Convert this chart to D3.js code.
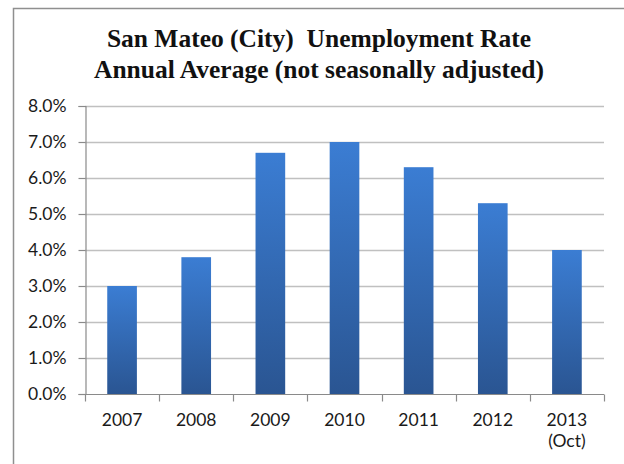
<!DOCTYPE html>
<html><head><meta charset="utf-8">
<script src="https://cdn.jsdelivr.net/npm/d3@7"></script>
<style>html,body{margin:0;padding:0;background:#fff;}svg{display:block;}</style>
</head><body>
<svg id="c" width="624" height="464"></svg>
<script>
const categories = [["2007"],["2008"],["2009"],["2010"],["2011"],["2012"],["2013","(Oct)"]];
const values = [3.0, 3.8, 6.7, 7.0, 6.3, 5.3, 4.0];
const yTicks = [0,1,2,3,4,5,6,7,8];
const titleLines = ["San Mateo (City)  Unemployment Rate", "Annual Average (not seasonally adjusted)"];

const svg = d3.select("#c");
const m = {left:85, right:604, top:106, bottom:394};
const keys = categories.map(c => c.join(" "));
const x = d3.scaleBand().domain(keys).range([m.left, m.right]).paddingInner(0.6).paddingOuter(0.3);
const xb = d3.scaleBand().domain(keys).range([m.left, m.right]);
const y = d3.scaleLinear().domain([0,8]).range([m.bottom, m.top]);

// frame
svg.append("path").attr("d","M13.5,464 V8.5 H624").attr("fill","none").attr("stroke","#8f8f8f").attr("stroke-width",1.5);

const defs = svg.append("defs");
const g = defs.append("linearGradient").attr("id","bg").attr("x1",0).attr("y1",0).attr("x2",0).attr("y2",1);
g.append("stop").attr("offset","0%").attr("stop-color","#3b7dd3");
g.append("stop").attr("offset","100%").attr("stop-color","#2a5592");

// gridlines
svg.append("g").selectAll("line").data(yTicks.filter(d=>d>0)).join("line")
  .attr("x1",m.left).attr("x2",m.right).attr("y1",d=>Math.round(y(d))+0.5).attr("y2",d=>Math.round(y(d))+0.5)
  .attr("stroke","#c0c0c0").attr("stroke-width",1.5);

// y axis
const ya = svg.append("g").attr("transform",`translate(${m.left+0.5},0)`)
  .call(d3.axisLeft(y).tickValues(yTicks).tickSize(7).tickPadding(12).tickFormat(d=>d.toFixed(1)+"%"));
ya.select(".domain").attr("stroke","#8a8a8a").attr("stroke-width",1.2);
ya.selectAll(".tick line").attr("stroke","#8a8a8a").attr("stroke-width",1.2);
ya.selectAll("text").attr("font-family","Lato, sans-serif").attr("font-size",17.5).attr("fill","#1a1a1a");

// bars
svg.append("g").selectAll("rect").data(values).join("rect")
  .attr("x",(d,i)=>x(keys[i])).attr("width",x.bandwidth())
  .attr("y",d=>y(d)).attr("height",d=>y(0)-y(d)).attr("fill","url(#bg)");

// x axis
const xa = svg.append("g").attr("transform",`translate(0,${m.bottom+0.5})`);
xa.append("line").attr("x1",m.left).attr("x2",m.right).attr("stroke","#8a8a8a").attr("stroke-width",1.2);
xa.selectAll(".tk").data(d3.range(keys.length+1)).join("line")
  .attr("x1",i=>Math.round(m.left + i*xb.step())+0.5).attr("x2",i=>Math.round(m.left + i*xb.step())+0.5)
  .attr("y1",0).attr("y2",7).attr("stroke","#8a8a8a").attr("stroke-width",1.2);
const lbl = xa.selectAll(".lb").data(categories).join("text")
  .attr("font-family","Lato, sans-serif").attr("font-size",17.5).attr("fill","#1a1a1a").attr("text-anchor","middle")
  .attr("x",(d,i)=>xb(keys[i])+xb.bandwidth()/2).attr("y",31);
lbl.selectAll("tspan").data(d=>d).join("tspan")
  .attr("x",function(){return this.parentNode.getAttribute("x");})
  .attr("dy",(d,i)=>i===0?0:21).text(d=>d);

// title
svg.append("g").selectAll("text").data(titleLines).join("text")
  .attr("x",319).attr("y",(d,i)=>47+i*31).attr("text-anchor","middle")
  .attr("font-family","'Liberation Serif', serif").attr("font-weight","bold").attr("font-size",25.5).attr("fill","#111")
  .attr("xml:space","preserve").style("white-space","pre").text(d=>d);
</script>
</body></html>
